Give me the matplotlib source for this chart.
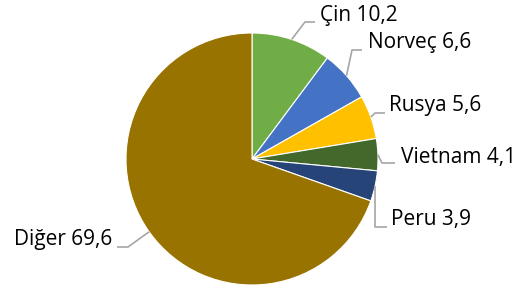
import numpy as np
import matplotlib
matplotlib.use("Agg")
import matplotlib.pyplot as plt

# Pie data
labels = ["Çin", "Norveç", "Rusya", "Vietnam", "Peru", "Diğer"]
values = [10.2, 6.6, 5.6, 4.1, 3.9, 69.6]
colors = ["#70AD47", "#4472C4", "#FFC000", "#43682B", "#264478", "#997300"]

# label layout in pixels: (text x, text y, elbow x, elbow y, line end x, ha)
W, H = 529, 288
cx, cy, R = 252, 159, 126
label_layout = [
    (320, 15, 305, 22, 315, "left"),
    (368, 42, 352, 50, 362, "left"),
    (389, 105, 375, 113, 385, "left"),
    (401, 157, 382, 163, 395, "left"),
    (391, 220, 375, 227, 387, "left"),
    (112, 240, 128, 247, 117, "right"),
]

plt.rcParams["font.family"] = ["Open Sans", "DejaVu Sans"]

fig = plt.figure(figsize=(W / 100, H / 100), dpi=100)
ax = fig.add_axes([(cx - R) / W, (H - cy - R) / H, 2 * R / W, 2 * R / H])
wedges, _ = ax.pie(values, colors=colors, startangle=90, counterclock=False,
                   radius=1, wedgeprops=dict(edgecolor="white", linewidth=0.8))
ax.set_xlim(-1, 1)
ax.set_ylim(-1, 1)
ax.set_aspect("equal")
ax.axis("off")


def to_data(px, py):
    return (px - cx) / R, (cy - py) / R


cum = 0
for lab, v, lay in zip(labels, values, label_layout):
    mid = 90 - (cum + v / 2) / sum(values) * 360
    cum += v
    ax0, ay0 = np.cos(np.radians(mid)), np.sin(np.radians(mid))
    tx, ty, ex, ey, lx, ha = lay
    exd, eyd = to_data(ex, ey)
    lxd, _ = to_data(lx, ey)
    ax.plot([ax0, exd, lxd], [ay0, eyd, eyd], color="#A6A6A6", lw=1.2,
            clip_on=False, solid_capstyle="butt")
    txd, tyd = to_data(tx, ty)
    ax.text(txd, tyd, f"{lab} {str(v).replace('.', ',')}", ha=ha, va="center",
            fontsize=15, color="#000000", clip_on=False)

fig.savefig("out.png", dpi=100)
